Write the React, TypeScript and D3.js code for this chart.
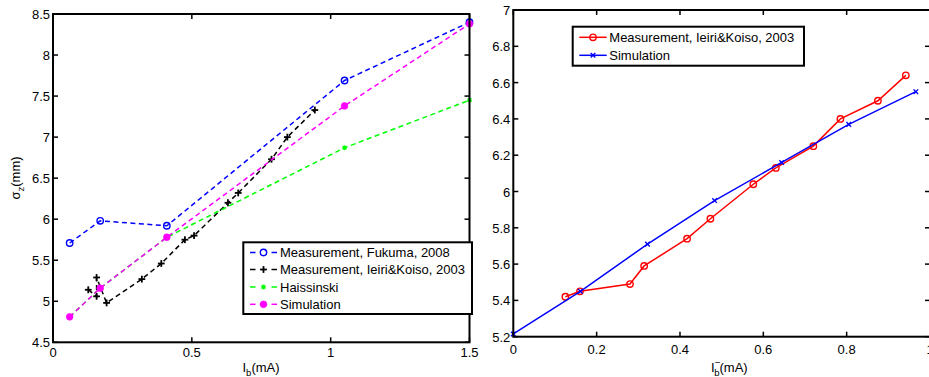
import React from "react";
import * as d3 from "d3";

// ---- Left panel: bunch length vs. bunch current ----
const fukumaI = [0.06, 0.17, 0.41, 1.05, 1.5];
const fukumaSigma = [5.71, 5.98, 5.92, 7.69, 8.4];

const ieiriI = [0.127, 0.157, 0.157, 0.193, 0.32, 0.39, 0.475, 0.508, 0.63, 0.667, 0.787, 0.844, 0.943];
const ieiriSigma = [5.14, 5.06, 5.29, 4.98, 5.27, 5.46, 5.75, 5.8, 6.2, 6.32, 6.73, 7.0, 7.33];

const haissinskiI = [0.06, 0.17, 0.41, 1.05, 1.5];
const haissinskiSigma = [4.81, 5.16, 5.78, 6.87, 7.45];

const simI = [0.06, 0.17, 0.41, 1.05, 1.5];
const simSigma = [4.81, 5.16, 5.78, 7.38, 8.38];

const leftXTicks = [0, 0.5, 1, 1.5];
const leftXTickLabels = ["0", "0.5", "1", "1.5"];
const leftYTicks = [4.5, 5, 5.5, 6, 6.5, 7, 7.5, 8, 8.5];
const leftYTickLabels = ["4.5", "5", "5.5", "6", "6.5", "7", "7.5", "8", "8.5"];

const leftLegend = [
  "Measurement, Fukuma, 2008",
  "Measurement, Ieiri&Koiso, 2003",
  "Haissinski",
  "Simulation",
];

// ---- Right panel ----
const measI = [0.125, 0.16, 0.28, 0.314, 0.417, 0.473, 0.576, 0.63, 0.72, 0.785, 0.875, 0.942];
const measSigma = [5.42, 5.45, 5.49, 5.59, 5.74, 5.85, 6.04, 6.13, 6.25, 6.4, 6.5, 6.64];

const simRI = [0, 0.161, 0.322, 0.483, 0.644, 0.805, 0.966];
const simRSigma = [5.215, 5.45, 5.71, 5.95, 6.16, 6.37, 6.55];

const rightXTicks = [0, 0.2, 0.4, 0.6, 0.8, 1];
const rightXTickLabels = ["0", "0.2", "0.4", "0.6", "0.8", "1"];
const rightYTicks = [5.2, 5.4, 5.6, 5.8, 6, 6.2, 6.4, 6.6, 6.8, 7];
const rightYTickLabels = ["5.2", "5.4", "5.6", "5.8", "6", "6.2", "6.4", "6.6", "6.8", "7"];

const rightLegend = ["Measurement, Ieiri&Koiso, 2003", "Simulation"];

const FONT = "'Liberation Sans', Arial, sans-serif";
const FS = 13;

type MarkerKind = "o" | "+" | "*" | "dot" | "x";

function Marker({ kind, x, y, color }: { kind: MarkerKind; x: number; y: number; color: string }) {
  if (kind === "o") {
    return <circle cx={x} cy={y} r={3.2} fill="none" stroke={color} strokeWidth={1.4} />;
  }
  if (kind === "dot") {
    return <circle cx={x} cy={y} r={3.4} fill={color} stroke={color} strokeWidth={0.6} />;
  }
  if (kind === "+") {
    const s = 3.4;
    return (
      <g stroke={color} strokeWidth={1.8}>
        <line x1={x - s} y1={y} x2={x + s} y2={y} />
        <line x1={x} y1={y - s} x2={x} y2={y + s} />
      </g>
    );
  }
  if (kind === "*") {
    const s = 2.4;
    const d = s * 0.75;
    return (
      <g stroke={color} strokeWidth={1.3}>
        <line x1={x - s} y1={y} x2={x + s} y2={y} />
        <line x1={x} y1={y - s} x2={x} y2={y + s} />
        <line x1={x - d} y1={y - d} x2={x + d} y2={y + d} />
        <line x1={x - d} y1={y + d} x2={x + d} y2={y - d} />
      </g>
    );
  }
  const s = 2.3;
  return (
    <g stroke={color} strokeWidth={1.4}>
      <line x1={x - s} y1={y - s} x2={x + s} y2={y + s} />
      <line x1={x - s} y1={y + s} x2={x + s} y2={y - s} />
    </g>
  );
}

type Series = {
  xs: number[];
  ys: number[];
  color: string;
  marker: MarkerKind;
  dashed: boolean;
};

function Axes({
  x0, x1, y0, y1, xDomain, yDomain, xTicks, xTickLabels, yTicks, yTickLabels, series, xLabelGap,
}: {
  x0: number; x1: number; y0: number; y1: number;
  xDomain: [number, number]; yDomain: [number, number];
  xTicks: number[]; xTickLabels: string[]; yTicks: number[]; yTickLabels: string[];
  series: Series[]; xLabelGap: number;
}) {
  const x = d3.scaleLinear().domain(xDomain).range([x0, x1]);
  const y = d3.scaleLinear().domain(yDomain).range([y1, y0]);
  const tl = 5;
  const line = d3.line<number>();
  return (
    <g>
      {series.map((s, i) => {
        const pts = s.xs.map((v, k) => [x(v), y(s.ys[k])] as [number, number]);
        return (
          <g key={i}>
            <path
              d={d3.line()(pts) || ""}
              fill="none"
              stroke={s.color}
              strokeWidth={1.5}
              strokeDasharray={s.dashed ? "5,3.5" : undefined}
            />
            {pts.map((p, k) => (
              <Marker key={k} kind={s.marker} x={p[0]} y={p[1]} color={s.color} />
            ))}
          </g>
        );
      })}
      {/* ticks on all four sides */}
      <g stroke="#000" strokeWidth={1.5}>
        {xTicks.map((t, i) => (
          <g key={"xt" + i}>
            <line x1={x(t)} x2={x(t)} y1={y1} y2={y1 - tl} />
            <line x1={x(t)} x2={x(t)} y1={y0} y2={y0 + tl} />
          </g>
        ))}
        {yTicks.map((t, i) => (
          <g key={"yt" + i}>
            <line x1={x0} x2={x0 + tl} y1={y(t)} y2={y(t)} />
            <line x1={x1} x2={x1 - tl} y1={y(t)} y2={y(t)} />
          </g>
        ))}
      </g>
      <rect x={x0} y={y0} width={x1 - x0} height={y1 - y0} fill="none" stroke="#000" strokeWidth={2} />
      <g fontFamily={FONT} fontSize={FS} fill="#000">
        {xTicks.map((t, i) => (
          <text key={"xl" + i} x={x(t)} y={y1 + xLabelGap + 4.7} textAnchor="middle">
            {xTickLabels[i]}
          </text>
        ))}
        {yTicks.map((t, i) => (
          <text key={"yl" + i} x={x0 - 3} y={y(t) + 5} textAnchor="end">
            {yTickLabels[i]}
          </text>
        ))}
      </g>
    </g>
  );
}

function Legend({
  left, top, right, bottom, rows, rowY, sampleX0, sampleX1, textX, gapped,
}: {
  left: number; top: number; right: number; bottom: number;
  rows: { label: string; color: string; marker: MarkerKind }[];
  rowY: number[]; sampleX0: number; sampleX1: number; textX: number; gapped: boolean;
}) {
  const mx = (sampleX0 + sampleX1) / 2;
  return (
    <g>
      <rect x={left} y={top} width={right - left} height={bottom - top} fill="#fff" stroke="#000" strokeWidth={2} />
      {rows.map((r, i) => (
        <g key={i}>
          {gapped ? (
            <g stroke={r.color} strokeWidth={1.5}>
              <line x1={sampleX0} x2={sampleX0 + 5.5} y1={rowY[i]} y2={rowY[i]} />
              <line x1={sampleX1 - 5.5} x2={sampleX1} y1={rowY[i]} y2={rowY[i]} />
            </g>
          ) : (
            <line x1={sampleX0} x2={sampleX1} y1={rowY[i]} y2={rowY[i]} stroke={r.color} strokeWidth={1.5} />
          )}
          <Marker kind={r.marker} x={mx} y={rowY[i]} color={r.color} />
          <text x={textX} y={rowY[i] + 4.7} fontFamily={FONT} fontSize={FS} fill="#000">
            {r.label}
          </text>
        </g>
      ))}
    </g>
  );
}

export default function App() {
  const leftSeries: Series[] = [
    { xs: fukumaI, ys: fukumaSigma, color: "#0000ff", marker: "o", dashed: true },
    { xs: ieiriI, ys: ieiriSigma, color: "#000000", marker: "+", dashed: true },
    { xs: haissinskiI, ys: haissinskiSigma, color: "#00ff00", marker: "*", dashed: true },
    { xs: simI, ys: simSigma, color: "#ff00ff", marker: "dot", dashed: true },
  ];
  const rightSeries: Series[] = [
    { xs: measI, ys: measSigma, color: "#ff0000", marker: "o", dashed: false },
    { xs: simRI, ys: simRSigma, color: "#0000ff", marker: "x", dashed: false },
  ];

  return (
    <svg
      width={929}
      height={377}
      style={{ position: "absolute", left: 0, top: 0, background: "#fff" }}
    >
      <rect x={0} y={0} width={929} height={377} fill="#fff" />
      <Axes
        x0={53} x1={469.5} y0={14} y1={342.3}
        xDomain={[0, 1.5]} yDomain={[4.5, 8.5]}
        xTicks={leftXTicks} xTickLabels={leftXTickLabels}
        yTicks={leftYTicks} yTickLabels={leftYTickLabels}
        series={leftSeries} xLabelGap={10}
      />
      <Legend
        left={243.3} top={242.3} right={472} bottom={314}
        rows={leftLegend.map((label, i) => ({
          label,
          color: leftSeries[i].color,
          marker: leftSeries[i].marker,
        }))}
        rowY={[252.5, 269.5, 287, 304.3]}
        sampleX0={250} sampleX1={277} textX={280} gapped={true}
      />
      {/* left axis titles */}
      <text x={261} y={371.5} textAnchor="middle" fontFamily={FONT} fontSize={FS}>
        I<tspan fontSize={9.5} dy={4.5}>b</tspan>
        <tspan dy={-4.5}>(mA)</tspan>
      </text>
      <text
        transform="translate(19.5,178) rotate(-90)"
        textAnchor="middle"
        fontFamily={FONT}
        fontSize={FS}
      >
        σ<tspan fontSize={9.5} dy={4}>z</tspan>
        <tspan dy={-4}>(mm)</tspan>
      </text>

      <Axes
        x0={513.3} x1={930} y0={10} y1={336.7}
        xDomain={[0, 1]} yDomain={[5.2, 7]}
        xTicks={rightXTicks} xTickLabels={rightXTickLabels}
        yTicks={rightYTicks} yTickLabels={rightYTickLabels}
        series={rightSeries} xLabelGap={12.3}
      />
      <Legend
        left={572.7} top={26.7} right={804} bottom={65.7}
        rows={rightLegend.map((label, i) => ({
          label,
          color: rightSeries[i].color,
          marker: rightSeries[i].marker,
        }))}
        rowY={[37.3, 55.3]}
        sampleX0={579.3} sampleX1={606.7} textX={609.3} gapped={false}
      />
      <text x={711} y={371.5} fontFamily={FONT} fontSize={FS}>
        I
        <tspan fontSize={9.5} dy={-6}>−</tspan>
        <tspan fontSize={9.5} dx={-6} dy={10.5}>b</tspan>
        <tspan dy={-4.5}>(mA)</tspan>
      </text>
    </svg>
  );
}
